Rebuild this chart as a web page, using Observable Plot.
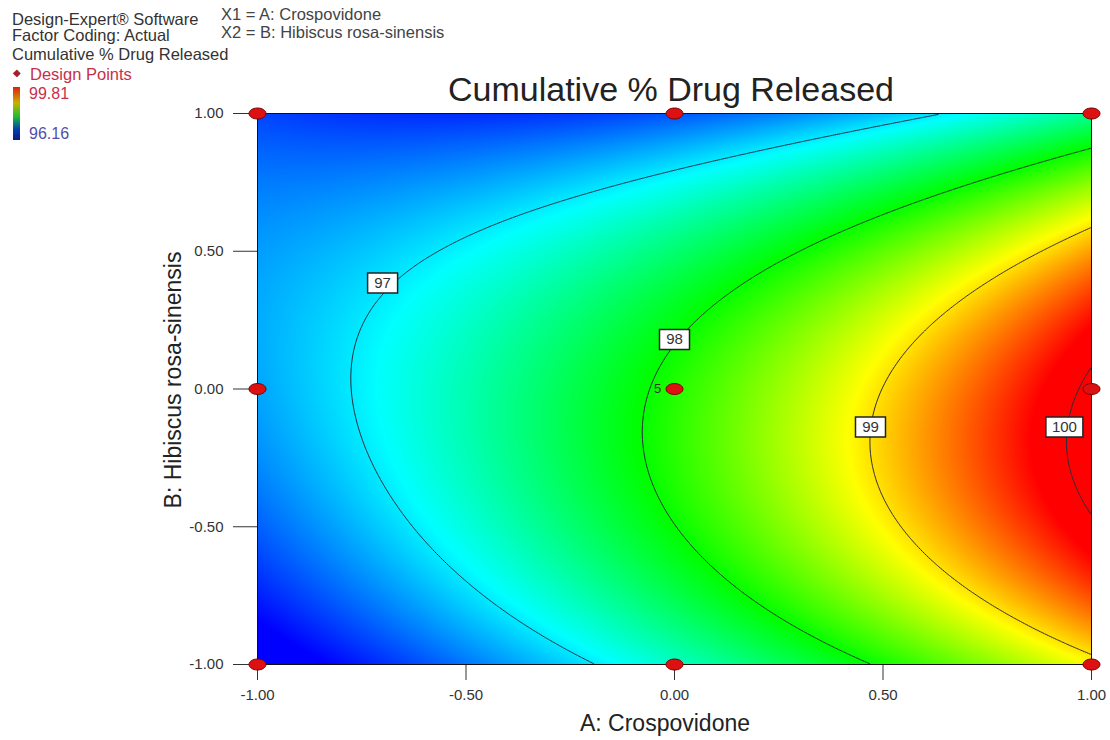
<!DOCTYPE html>
<html><head><meta charset="utf-8">
<script src="https://cdn.jsdelivr.net/npm/d3@7"></script>
<script src="https://cdn.jsdelivr.net/npm/@observablehq/plot@0.6"></script>
<style>
body{margin:0;background:#fff;font-family:"Liberation Sans",Arial,sans-serif;}
#wrap{position:relative;width:1110px;height:740px;overflow:hidden;}
.t{position:absolute;white-space:nowrap;color:#333;line-height:1;}
</style></head><body><div id="wrap"></div>
<script>
// Fitted response model for Cumulative % Drug Released (coded factors A, B)
const terms = ["Intercept", "A", "B", "AB", "A²", "B²", "A²B", "AB²"];
const coefficients = [98.0975, 1.6584, -0.4055, -0.4684, 0.3133, -1.2303, 0.1604, -0.6601];

// Design points (3² factorial, centre point replicated)
const designA = [-1, 0, 1, -1, 0, 1, -1, 0, 1];
const designB = [1, 1, 1, 0, 0, 0, -1, -1, -1];
const centreReplicates = 5;

// Contour levels and where their labels sit
const levels = [97, 98, 99, 100];
const labelA = [-0.70, 0, 0.47, 0.935];
const labelB = [0.385, 0.18, -0.138, -0.138];

// Axis ticks and colour-bar range (design point min / max)
const ticks = [-1, -0.5, 0, 0.5, 1];
const responseMin = 96.16, responseMax = 99.81;

const termFns = {
  "Intercept": () => 1, "A": (a) => a, "B": (a, b) => b, "AB": (a, b) => a * b,
  "A²": (a) => a * a, "B²": (a, b) => b * b, "A²B": (a, b) => a * a * b, "AB²": (a, b) => a * b * b
};
const model = (a, b) => terms.reduce((s, t, i) => s + coefficients[i] * termFns[t](a, b), 0);

const k = 0.5523;
const ellipse = {draw(ctx) {
  const rx = 8.5, ry = 5.5;
  ctx.moveTo(rx, 0);
  ctx.bezierCurveTo(rx, ry * k, rx * k, ry, 0, ry);
  ctx.bezierCurveTo(-rx * k, ry, -rx, ry * k, -rx, 0);
  ctx.bezierCurveTo(-rx, -ry * k, -rx * k, -ry, 0, -ry);
  ctx.bezierCurveTo(rx * k, -ry, rx, -ry * k, rx, 0);
  ctx.closePath();
}};
const box = (w) => ({draw(ctx) { ctx.rect(-w / 2, -10, w, 20); }});

const pts = designA.map((a, i) => ({a, b: designB[i]}));
const labs = levels.map((l, i) => ({a: labelA[i], b: labelB[i], t: String(l)}));
const step = (responseMax - responseMin) / 4;
const fmt = (d) => d.toFixed(2);

const chart = Plot.plot({
  width: 1110, height: 740,
  marginLeft: 257, marginRight: 19, marginTop: 113, marginBottom: 76,
  style: {fontFamily: "Liberation Sans, Arial, sans-serif", fontSize: "15px", color: "#333", background: "transparent"},
  x: {domain: [-1, 1], ticks, tickFormat: fmt, tickSize: 16, tickPadding: 9, label: null},
  y: {domain: [-1, 1], ticks, tickFormat: fmt, tickSize: 24, tickPadding: 10, label: null},
  color: {
    type: "linear",
    domain: d3.range(5).map((i) => responseMin + i * step),
    range: ["#0000ff", "#00ffff", "#00ff00", "#ffff00", "#ff0000"],
    clamp: true
  },
  marks: [
    Plot.raster({fill: (x, y) => model(x, y), x1: -1, x2: 1, y1: -1, y2: 1, pixelSize: 1}),
    Plot.contour({value: (x, y) => model(x, y), x1: -1, x2: 1, y1: -1, y2: 1, thresholds: levels, fill: "none", stroke: "#2b2b3a", strokeWidth: 1}),
    Plot.frame({stroke: "#111"}),
    Plot.dot(labs.filter((d) => d.t.length < 3), {x: "a", y: "b", symbol: box(30), fill: "#fff", stroke: "#222"}),
    Plot.dot(labs.filter((d) => d.t.length >= 3), {x: "a", y: "b", symbol: box(37), fill: "#fff", stroke: "#222"}),
    Plot.text(labs, {x: "a", y: "b", text: "t", fill: "#333", fontSize: 15}),
    Plot.text([{a: 0, b: 0, t: String(centreReplicates)}], {x: "a", y: "b", text: "t", dx: -17, fill: "#333", fontSize: 13}),
    Plot.dot(pts, {x: "a", y: "b", symbol: ellipse, fill: "#dd1111", stroke: "#7a0000", strokeWidth: 1})
  ]
});

const wrap = document.getElementById("wrap");
chart.style.position = "absolute"; chart.style.left = "0"; chart.style.top = "0";
wrap.appendChild(chart);

function addText(txt, x, y, css) {
  const d = document.createElement("div");
  d.className = "t"; d.textContent = txt;
  d.style.left = x + "px"; d.style.top = y + "px";
  Object.assign(d.style, css || {});
  wrap.appendChild(d);
  return d;
}
addText("Cumulative % Drug Released", 671, 72, {fontSize: "34px", color: "#222", transform: "translateX(-50%)"});
addText("A: Crospovidone", 665, 712, {fontSize: "23px", color: "#222", transform: "translateX(-50%)"});
addText("B: Hibiscus rosa-sinensis", 173, 380, {fontSize: "23px", color: "#222", transform: "translate(-50%,-50%) rotate(-90deg)"});
addText("Design-Expert® Software", 12, 11, {fontSize: "16.5px"});
addText("Factor Coding: Actual", 12, 27, {fontSize: "16.5px"});
addText("Cumulative % Drug Released", 12, 46, {fontSize: "16.5px"});
addText("◆", 13, 68, {fontSize: "10px", color: "#a02030"});
addText("Design Points", 30, 66, {fontSize: "16.5px", color: "#c8304a"});
addText("X1 = A: Crospovidone", 221, 6, {fontSize: "16.5px", color: "#444"});
addText("X2 = B: Hibiscus rosa-sinensis", 221, 24, {fontSize: "16.5px", color: "#444"});

// colour bar
const bar = document.createElement("div");
Object.assign(bar.style, {position: "absolute", left: "13px", top: "87px", width: "7px", height: "53px",
  background: "linear-gradient(to bottom,#e02010,#c8b000 30%,#20c030 55%,#0040b0 80%,#101a80)"});
wrap.appendChild(bar);
addText(responseMax.toFixed(2), 29, 86, {fontSize: "16px", color: "#c8304a"});
addText(responseMin.toFixed(2), 29, 126, {fontSize: "16px", color: "#5050a8"});
</script></body></html>
